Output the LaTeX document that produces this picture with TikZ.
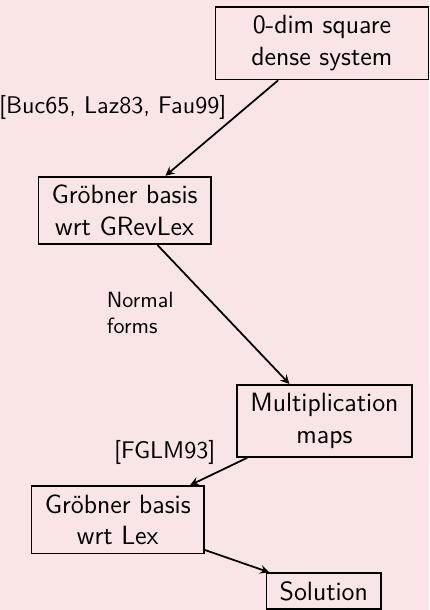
\documentclass[tikz,border=0pt,12pt]{standalone}
\usepackage{amsmath,amssymb}
\usepackage{tikz}
\definecolor{bgpink}{RGB}{249,229,230}
\renewcommand{\familydefault}{\sfdefault}

\tikzset{
  stepbox/.style={draw,thick,align=center,inner xsep=6pt,inner ysep=3.8pt},
  ref/.style={font=\small}
}

\begin{document}
\begin{tikzpicture}
\fill[bgpink] (0,0) rectangle (6.85,-9.74);
\useasboundingbox (0,0) rectangle (6.85,-9.74);
% the steps
\node[stepbox,minimum width=3.4cm] (sys) at (5.14,-0.69) {0-dim square\\dense system};
\node[stepbox] (grevlex) at (1.99,-3.36) {Gr\"obner basis\\wrt GRevLex};
\node[stepbox] (mult) at (5.18,-6.72) {Multiplication\\maps};
\node[stepbox] (lex) at (1.88,-8.30) {Gr\"obner basis\\wrt Lex};
\node[stepbox] (sol) at (5.17,-9.44) {Solution};
% labels of the arrows
\node[ref] (refbuc) at (1.80,-1.72) {[Buc65, Laz83, Fau99]};
\node[font=\footnotesize,align=left] (nf) at (2.24,-5.00) {Normal\\forms};
\node[ref] (reffglm) at (2.63,-7.22) {[FGLM93]};
% arrows
\draw[thick,-stealth] (sys) -- (grevlex);
\draw[thick,-stealth] (grevlex) -- (mult);
\draw[thick,-stealth] (mult) -- (lex);
\draw[thick,-stealth] (lex) -- (sol);
\end{tikzpicture}
\end{document}
